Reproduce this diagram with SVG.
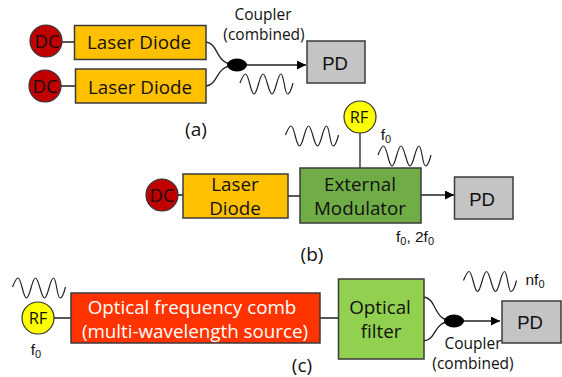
<svg xmlns="http://www.w3.org/2000/svg" width="562" height="377" viewBox="0 0 562 377">
<defs>
<marker id="arr" markerUnits="userSpaceOnUse" markerWidth="10" markerHeight="9" refX="9" refY="4.500" orient="auto"><path d="M0 0L9 4.500L0 9Z" fill="#000"/></marker>
<path id="wave" d="M0 9C2 4 3.500 0 5.500 0C9 0 10.500 20 14 20C17.500 20 19.500 0 23 0C26.500 0 28.500 20 32 20C35.500 20 37.500 0 41 0C44 0 44.500 20 47.500 20C49.500 20 51.500 15 53 9"/>
</defs>
<style>
text{font-family:"Open Sans","Noto Sans","Liberation Sans",sans-serif;fill:#111;text-anchor:middle}
.box{stroke:#3b3b3b;stroke-width:1.5}
.ld{fill:#ffc000}.pd{fill:#c4c4c4}
.dc{fill:#c00000;stroke:#333;stroke-width:1.2}
.rf{fill:#ffff00;stroke:#333;stroke-width:1.2}
.l{font-size:18.8px}.s{font-size:15.500px}.sm{font-size:19px}
.dct{font-size:18.500px}.rft{font-size:16.500px}
.pdt{font-family:"Liberation Sans",Arial,sans-serif;font-size:18.500px}
.f{font-family:"Liberation Sans",Arial,sans-serif;font-size:15.500px}
.sub{font-size:11px}
.w{fill:none;stroke:#222;stroke-width:1.2}
.c{fill:none;stroke:#222;stroke-width:1.3}
</style>
<g id="connectors">
<path class="c" d="M62 42H74M61 86H76M206 42C220 44 214 65 237 65M206 86C220 84 214 65 237 65"/>
<path class="c" d="M237 65H306" marker-end="url(#arr)"/>
<path class="c" d="M178 195H183M288 196H300M360 133V168"/>
<path class="c" d="M421 195H454" marker-end="url(#arr)"/>
<path class="c" d="M54 318H71M320 318H338M424 297C438 299 432 321 454 321M424 341C438 339 432 321 454 321"/>
<path class="c" d="M454 321H500" marker-end="url(#arr)"/>
</g>
<g id="waves">
<use href="#wave" class="w" x="240" y="74"/>
<use href="#wave" class="w" x="285.500" y="126"/>
<use href="#wave" class="w" x="378" y="146"/>
<use href="#wave" class="w" x="12.500" y="278"/>
<use href="#wave" class="w" x="463.500" y="271.500"/>
</g>
<g id="dc1"><circle class="dc" cx="46" cy="41" r="16"/><text x="47" y="48" class="dct">DC</text></g>
<g id="ld1"><rect class="box ld" x="74.500" y="25.500" width="131.500" height="34"/><text x="139" y="49" class="l">Laser Diode</text></g>
<g id="dc2"><circle class="dc" cx="45" cy="86" r="16"/><text x="45" y="93" class="dct">DC</text></g>
<g id="ld2"><rect class="box ld" x="75.500" y="69" width="130.500" height="34"/><text x="140" y="94" class="l">Laser Diode</text></g>
<g id="coupler-a"><ellipse cx="237" cy="65" rx="10" ry="6.500" fill="#000"/><text x="263" y="19.500" class="s">Coupler</text><text x="264" y="39.500" class="s">(combined)</text></g>
<g id="pd-a"><rect class="box pd" x="307" y="41" width="58" height="42"/><text x="335" y="70" class="pdt">PD</text></g>
<text x="196" y="136" class="sm">(a)</text>
<g id="rf-b"><circle class="rf" cx="360" cy="117" r="16"/><text x="359" y="122.500" class="rft">RF</text></g>
<g id="dc-b"><circle class="dc" cx="162" cy="195" r="16"/><text x="162" y="202" class="dct">DC</text></g>
<g id="ld-b"><rect class="box ld" x="183" y="174" width="105" height="44"/><text x="235" y="190.500" class="l">Laser</text><text x="235" y="214.500" class="l">Diode</text></g>
<g id="em"><rect class="box" fill="#70ad47" x="300" y="168" width="121" height="55"/><text x="360" y="190.500" class="l">External</text><text x="360" y="214.500" class="l">Modulator</text></g>
<g id="pd-b"><rect class="box pd" x="454.500" y="177" width="58.500" height="42"/><text x="482" y="206" class="pdt">PD</text></g>
<text x="386" y="140" class="f">f<tspan class="sub" dy="3">0</tspan></text>
<text x="415" y="242" class="f">f<tspan class="sub" dy="3">0</tspan><tspan dy="-3">, 2f</tspan><tspan class="sub" dy="3">0</tspan></text>
<text x="312" y="261" class="sm">(b)</text>
<g id="rf-c"><circle class="rf" cx="38" cy="318" r="16"/><text x="38" y="323.500" class="rft">RF</text></g>
<g id="comb"><rect class="box" fill="#ff3300" x="71" y="293" width="249" height="50"/><text x="192" y="313.500" class="l" style="fill:#fff">Optical frequency comb</text><text x="195" y="337.500" class="l" style="fill:#fff">(multi-wavelength source)</text></g>
<g id="filter"><rect class="box" fill="#92d050" x="338.500" y="279" width="85.500" height="80"/><text x="380" y="314" class="l">Optical</text><text x="381" y="338" class="l">filter</text></g>
<g id="coupler-c"><ellipse cx="454" cy="321" rx="10" ry="6.500" fill="#000"/><text x="473" y="349" class="s">Coupler</text><text x="473" y="369" class="s">(combined)</text></g>
<g id="pd-c"><rect class="box pd" x="502" y="301" width="59" height="42"/><text x="530" y="329" class="pdt">PD</text></g>
<text x="36" y="355" class="f">f<tspan class="sub" dy="3">0</tspan></text>
<text x="535" y="285" class="f">nf<tspan class="sub" dy="3">0</tspan></text>
<text x="302" y="372" class="sm">(c)</text>
</svg>
